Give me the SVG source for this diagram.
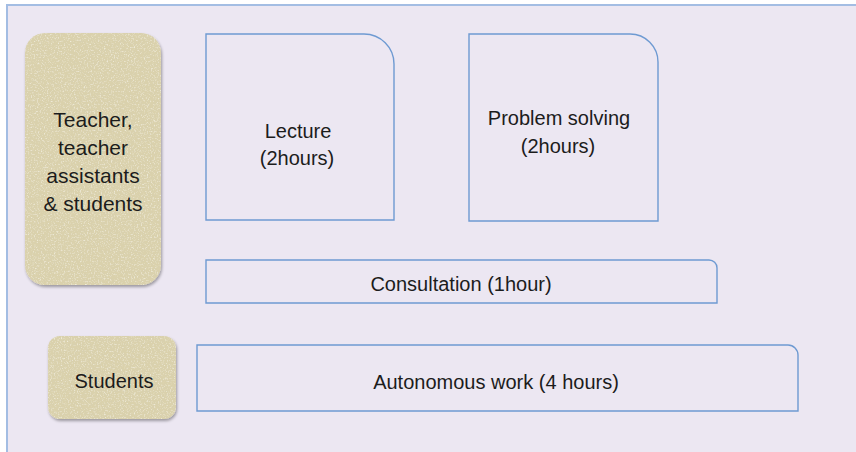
<svg xmlns="http://www.w3.org/2000/svg" width="856" height="452" viewBox="0 0 856 452">
  <defs>
    <filter id="shadow" x="-10%" y="-10%" width="125%" height="125%">
      <feTurbulence type="fractalNoise" baseFrequency="0.7" numOctaves="2" seed="3" result="noise"/>
      <feColorMatrix in="noise" type="matrix" values="0 0 0 0 0.93  0 0 0 0 0.91  0 0 0 0 0.82  0 0 0 2 -1.05" result="speckL"/>
      <feColorMatrix in="noise" type="matrix" values="0 0 0 0 0.66  0 0 0 0 0.62  0 0 0 0 0.48  0 0 0 -2 0.85" result="speckD"/>
      <feMerge result="specks"><feMergeNode in="speckL"/><feMergeNode in="speckD"/></feMerge>
      <feComposite in="specks" in2="SourceGraphic" operator="in" result="speckIn"/>
      <feMerge result="tex"><feMergeNode in="SourceGraphic"/><feMergeNode in="speckIn"/></feMerge>
      <feGaussianBlur in="SourceAlpha" stdDeviation="1.5"/>
      <feOffset dx="1" dy="2" result="b"/>
      <feComponentTransfer in="b" result="sh"><feFuncA type="linear" slope="0.35"/></feComponentTransfer>
      <feMerge><feMergeNode in="sh"/><feMergeNode in="tex"/></feMerge>
    </filter>
    <style>
      .frame { fill: #ECE7F2; stroke: #A3BDE3; stroke-width: 2; }
      .box { fill: none; stroke: #6E9AD2; stroke-width: 1.4; }
      .tan { fill: #DAD1AC; filter: url(#shadow); }
      .lbl { font-family: "Liberation Sans", Arial, sans-serif; font-size: 20px; fill: #1c1c1c; text-anchor: middle; }
      .big { font-size: 21px; }
    </style>
  </defs>
  <rect x="0" y="0" width="856" height="452" fill="#FFFFFF"/>
  <rect class="frame" x="7" y="5" width="860" height="460"/>

  <g id="teacher-group">
    <rect class="tan" x="25" y="33" width="136" height="252" rx="20" ry="20"/>
    <text class="lbl big" x="93" y="127">Teacher,</text>
    <text class="lbl big" x="93" y="155">teacher</text>
    <text class="lbl big" x="93" y="183">assistants</text>
    <text class="lbl big" x="93" y="211">&amp; students</text>
  </g>

  <g id="lecture">
    <path class="box" d="M206,34 H364 A30,30 0 0 1 394,64 V220 H206 Z"/>
    <text class="lbl" x="298" y="138">Lecture</text>
    <text class="lbl" x="297" y="165">(2hours)</text>
  </g>

  <g id="problem-solving">
    <path class="box" d="M469,34 H630 A28,28 0 0 1 658,62 V221 H469 Z"/>
    <text class="lbl" x="559" y="125">Problem solving</text>
    <text class="lbl" x="558" y="153">(2hours)</text>
  </g>

  <g id="consultation">
    <path class="box" d="M206,260 H709 A8,8 0 0 1 717,268 V303 H206 Z"/>
    <text class="lbl" x="461" y="291">Consultation (1hour)</text>
  </g>

  <g id="students">
    <rect class="tan" x="48" y="336" width="128" height="83" rx="12" ry="12"/>
    <text class="lbl" x="114" y="388">Students</text>
  </g>

  <g id="autonomous-work">
    <path class="box" d="M197,345 H788 A10,10 0 0 1 798,355 V411 H197 Z"/>
    <text class="lbl" x="496" y="389">Autonomous work (4 hours)</text>
  </g>

  <g id="connectors"></g>
</svg>
